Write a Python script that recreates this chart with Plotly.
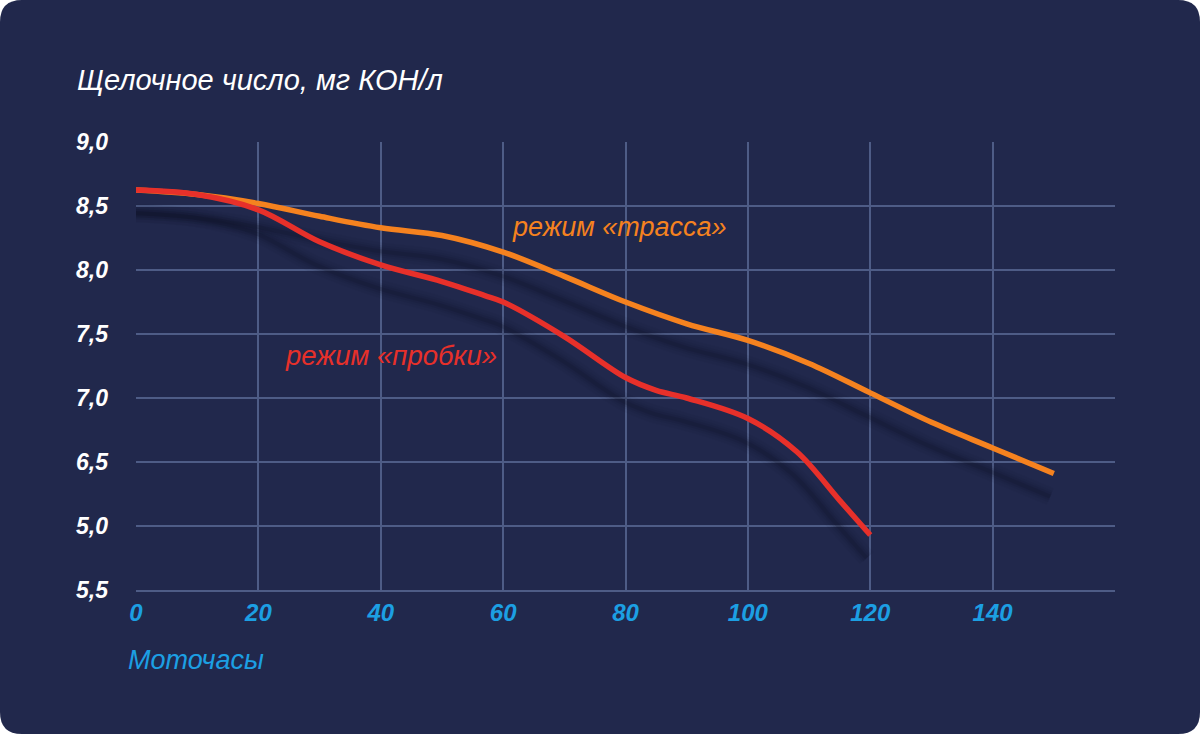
import plotly.graph_objects as go

# ---- data ----
hours_highway = [0, 10, 20, 30, 40, 50, 60, 70, 80, 90, 100, 110, 120, 130, 140, 150]
tbn_highway = [8.625, 8.59, 8.52, 8.42, 8.33, 8.27, 8.14, 7.95, 7.75, 7.58, 7.45, 7.27, 7.04, 6.81, 6.61, 6.41]

hours_jam = [0, 10, 20, 30, 40, 50, 57, 60, 70, 80, 85, 90, 100, 108, 115, 120]
tbn_jam = [8.625, 8.59, 8.47, 8.22, 8.04, 7.91, 7.80, 7.75, 7.48, 7.16, 7.06, 7.0, 6.84, 6.58, 6.20, 5.93]

x_ticks = [0, 20, 40, 60, 80, 100, 120, 140]
y_ticks = [9.0, 8.5, 8.0, 7.5, 7.0, 6.5, 6.0, 5.5]
y_ticktext = ["9,0", "8,5", "8,0", "7,5", "7,0", "6,5", "5,0", "5,5"]

title_text = "Щелочное число, мг КОН/л"
x_title = "Моточасы"
label_highway = "режим «трасса»"
label_jam = "режим «пробки»"

# ---- styling ----
BG = "#21284c"
GRID = "#4e5c86"
ORANGE = "#f5821f"
RED = "#e7302a"
BLUE = "#1c9fe3"
SHADOW = "#0e1226"

W, H = 1200, 734
L, R, T, B = 136, 85, 142, 144
PW, PH = W - L - R, H - T - B


def px(xp, yp):
    return (xp - L) / PW, (H - B - yp) / PH


def rounded_rect(r):
    x0, y0 = px(0, 0)
    x1, y1 = px(W, H)
    rx, ry = r / PW, r / PH
    return (f"M {x0+rx},{y0} L {x1-rx},{y0} Q {x1},{y0} {x1},{y0-ry} "
            f"L {x1},{y1+ry} Q {x1},{y1} {x1-rx},{y1} "
            f"L {x0+rx},{y1} Q {x0},{y1} {x0},{y1+ry} "
            f"L {x0},{y0-ry} Q {x0},{y0} {x0+rx},{y0} Z")


fig = go.Figure()

# soft shadows
dx, dy = -0.6, -0.18
for xs, ys in [(hours_highway, tbn_highway), (hours_jam, tbn_jam)]:
    for w, op in [(18, 0.05), (12, 0.08), (8, 0.12), (4, 0.18)]:
        fig.add_trace(go.Scatter(
            x=[v + dx for v in xs], y=[v + dy for v in ys], mode="lines",
            line=dict(color=SHADOW, width=w, shape="spline", smoothing=1.0),
            opacity=op, hoverinfo="skip", showlegend=False))

fig.add_trace(go.Scatter(x=hours_highway, y=tbn_highway, mode="lines",
                         line=dict(color=ORANGE, width=5.5, shape="spline", smoothing=1.0),
                         showlegend=False, name=label_highway))
fig.add_trace(go.Scatter(x=hours_jam, y=tbn_jam, mode="lines",
                         line=dict(color=RED, width=5.5, shape="spline", smoothing=1.0),
                         showlegend=False, name=label_jam))

fig.add_shape(type="path", path=rounded_rect(22), xref="paper", yref="paper",
              fillcolor=BG, line=dict(width=0), layer="below")

font_family = "Liberation Sans, Arial, sans-serif"

tx, ty = px(75, 80)
fig.add_annotation(text=title_text, xref="paper", yref="paper", x=tx, y=ty,
                   xanchor="left", yanchor="middle", showarrow=False,
                   font=dict(family=font_family, size=29, color="white", style="italic"))
mx, my = px(126, 660)
fig.add_annotation(text=x_title, xref="paper", yref="paper", x=mx, y=my,
                   xanchor="left", yanchor="middle", showarrow=False,
                   font=dict(family=font_family, size=27, color=BLUE, style="italic"))
hx, hy = px(510, 227)
fig.add_annotation(text=label_highway, xref="paper", yref="paper", x=hx, y=hy,
                   xanchor="left", yanchor="middle", showarrow=False,
                   font=dict(family=font_family, size=27, color=ORANGE, style="italic"))
jx, jy = px(283, 355)
fig.add_annotation(text=label_jam, xref="paper", yref="paper", x=jx, y=jy,
                   xanchor="left", yanchor="middle", showarrow=False,
                   font=dict(family=font_family, size=27.5, color=RED, style="italic"))

fig.update_xaxes(range=[0, 160], tickvals=x_ticks, ticktext=[str(v) for v in x_ticks],
                 showgrid=True, gridcolor=GRID, gridwidth=1.5, zeroline=False,
                 showline=True, linecolor=GRID, linewidth=1.5, ticks="",
                 ticklabelstandoff=0,
                 tickfont=dict(family=font_family, size=24, color=BLUE, style="italic", weight="bold"))
fig.update_yaxes(range=[5.5, 9.0], tickvals=y_ticks, ticktext=y_ticktext,
                 showgrid=True, gridcolor=GRID, gridwidth=1.5, zeroline=False,
                 showline=False, ticks="", ticklabelstandoff=27,
                 tickfont=dict(family=font_family, size=23, color="white", style="italic", weight="bold"))

fig.update_layout(width=W, height=H, margin=dict(l=L, r=R, t=T, b=B),
                  paper_bgcolor="white", plot_bgcolor="rgba(0,0,0,0)")

fig.write_html("out.html", config={"displayModeBar": False},
               post_script="document.body.style.margin='0';document.body.style.overflow='hidden';")
